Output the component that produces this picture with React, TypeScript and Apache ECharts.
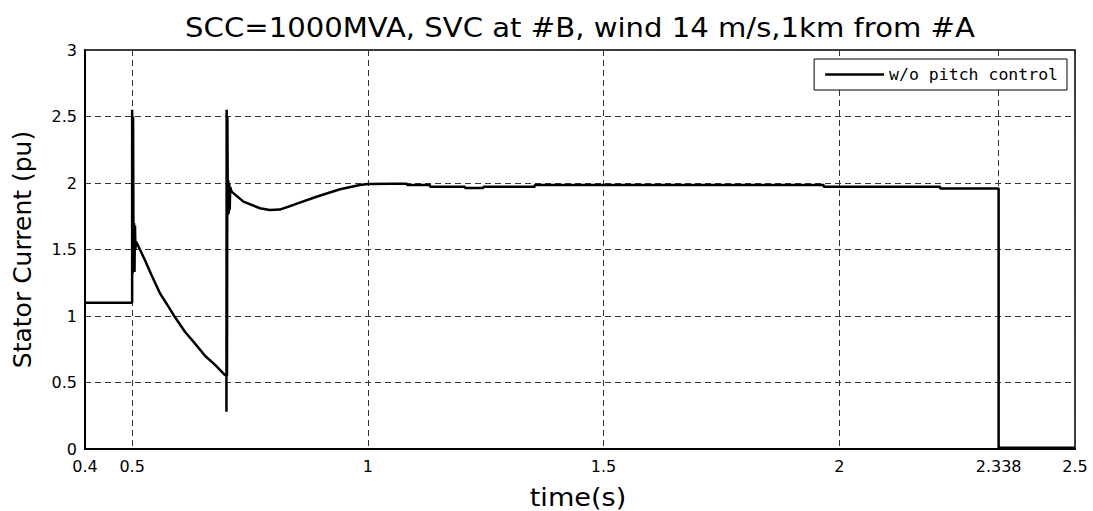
import React, { useEffect, useRef } from "react";
import * as echarts from "echarts";

const titleText = "SCC=1000MVA, SVC at #B, wind 14 m/s,1km from #A";
const xAxisName = "time(s)";
const yAxisName = "Stator Current (pu)";
const seriesName = "w/o pitch control";

const xTickValues = [0.4, 0.5, 1, 1.5, 2, 2.338, 2.5];

const timeValues = [
  0.4, 0.5, 0.5, 0.501, 0.502, 0.503, 0.504, 0.505, 0.506, 0.507, 0.508, 0.511,
  0.527, 0.541, 0.559, 0.577, 0.591, 0.612, 0.633, 0.655, 0.676, 0.697,
  0.7, 0.7, 0.7005, 0.7012, 0.702, 0.703, 0.704, 0.705, 0.706, 0.707, 0.708, 0.711,
  0.736, 0.771, 0.792, 0.813, 0.842, 0.891, 0.941, 0.983, 1.0, 1.05,
  1.083, 1.083, 1.132, 1.132, 1.206, 1.206, 1.245, 1.245, 1.354, 1.354,
  1.967, 1.967, 2.214, 2.214, 2.338, 2.338, 2.5,
];

const currentValues = [
  1.1, 1.1, 2.55, 1.32, 2.5, 1.35, 1.7, 1.33, 1.68, 1.5, 1.56, 1.541,
  1.421, 1.308, 1.171, 1.07, 0.99, 0.882, 0.794, 0.699, 0.632, 0.556,
  0.556, 0.28, 2.55, 0.55, 2.5, 1.76, 2.02, 1.77, 2.0, 1.8, 1.97, 1.935,
  1.86, 1.81, 1.797, 1.8, 1.835, 1.897, 1.953, 1.985, 1.992, 1.995,
  1.995, 1.985, 1.985, 1.972, 1.972, 1.962, 1.962, 1.972, 1.972, 1.985,
  1.985, 1.972, 1.972, 1.958, 1.958, 0.01, 0.01,
];

export default function App() {
  const ref = useRef<HTMLDivElement>(null);

  useEffect(() => {
    if (!ref.current) return;
    const chart = echarts.init(ref.current, null, { renderer: "svg" });
    const data = timeValues.map((t, i) => [t, currentValues[i]]);
    const gridLeft = 85;
    const gridRight = 1075;
    const gridTop = 50;
    const gridBottom = 449;
    const splitStyle = { color: "#333", width: 1, type: [6, 4] as number[] };

    chart.setOption({
      animation: false,
      backgroundColor: "#fff",
      graphic: [
        {
          type: "text",
          x: (gridLeft + gridRight) / 2,
          y: 28,
          scaleX: 1.12,
          style: {
            text: titleText,
            font: "26px 'DejaVu Sans'",
            fill: "#000",
            align: "center",
            verticalAlign: "middle",
          },
        },
        {
          type: "text",
          x: 578,
          y: 498,
          scaleX: 1.13,
          style: {
            text: xAxisName,
            font: "24px 'DejaVu Sans'",
            fill: "#000",
            align: "center",
            verticalAlign: "middle",
          },
        },
        {
          type: "text",
          x: 22,
          y: (gridTop + gridBottom) / 2,
          rotation: Math.PI / 2,
          style: {
            text: yAxisName,
            font: "25px 'DejaVu Sans'",
            fill: "#000",
            align: "center",
            verticalAlign: "middle",
          },
        },
      ],
      legend: {
        right: 26,
        top: 59,
        data: [{ name: seriesName, icon: "rect" }],
        itemWidth: 59,
        itemHeight: 2.5,
        padding: [7, 9, 7, 11],
        borderColor: "#000",
        borderWidth: 1,
        backgroundColor: "#fff",
        borderRadius: 0,
        textStyle: {
          fontFamily: "'DejaVu Sans Mono'",
          fontSize: 16.5,
          color: "#000",
        },
      },
      grid: {
        left: gridLeft,
        right: 1093 - gridRight,
        top: gridTop,
        bottom: 511 - gridBottom,
        show: true,
        borderColor: "#000",
        borderWidth: 1.5,
        backgroundColor: "#fff",
      },
      xAxis: {
        type: "value",
        min: 0.4,
        max: 2.5,
        axisLine: { show: true, lineStyle: { color: "#000", width: 2 } },
        axisTick: { show: false, customValues: xTickValues },
        axisLabel: {
          customValues: xTickValues,
          formatter: (v: number) => String(v),
          fontFamily: "'DejaVu Sans'",
          fontSize: 16,
          color: "#000",
          margin: 9,
        },
        splitLine: { show: true, lineStyle: splitStyle },
      },
      yAxis: {
        type: "value",
        min: 0,
        max: 3,
        interval: 0.5,
        axisLine: { show: true, lineStyle: { color: "#000", width: 2 } },
        axisTick: { show: false },
        axisLabel: {
          fontFamily: "'DejaVu Sans'",
          fontSize: 16,
          color: "#000",
          margin: 8,
        },
        splitLine: { show: true, lineStyle: splitStyle },
      },
      series: [
        {
          name: seriesName,
          type: "line",
          data,
          showSymbol: false,
          symbol: "none",
          lineStyle: { color: "#000", width: 2.5 },
          itemStyle: { color: "#000" },
        },
      ],
    });

    return () => {
      chart.dispose();
    };
  }, []);

  return (
    <div
      ref={ref}
      style={{ position: "fixed", left: 0, top: 0, width: 1093, height: 511 }}
    />
  );
}
